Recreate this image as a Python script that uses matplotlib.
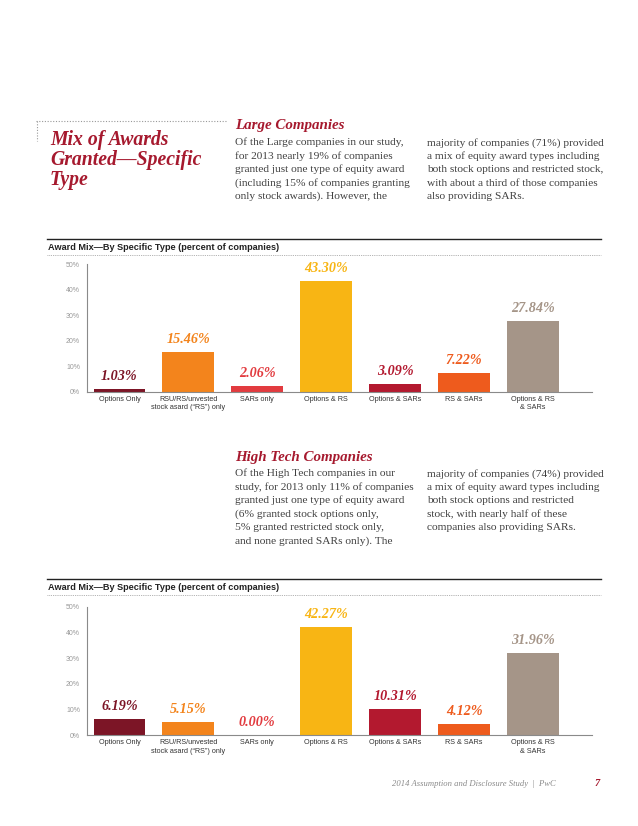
import matplotlib
matplotlib.use("Agg")
import matplotlib.pyplot as plt
from matplotlib.lines import Line2D

categories = ["Options Only", "RSU/RS/unvested\nstock asard (\u201cRS\u201d) only", "SARs only",
              "Options & RS", "Options & SARs", "RS & SARs", "Options & RS\n& SARs"]
large_values = [1.03, 15.46, 2.06, 43.30, 3.09, 7.22, 27.84]
hightech_values = [6.19, 5.15, 0.00, 42.27, 10.31, 4.12, 31.96]
bar_colors = ["#7c1526", "#f3841c", "#e23b3f", "#f8b514", "#b3192f", "#ee5b1d", "#a59588"]
y_ticks = [0, 10, 20, 30, 40, 50]
y_tick_labels = ["0%", "10%", "20%", "30%", "40%", "50%"]

CRIMSON = "#a6192e"
SERIF = "Liberation Serif"
SANS = "Liberation Sans"

W, H = 638, 826
fig = plt.figure(figsize=(W / 100, H / 100), dpi=100)
fig.patch.set_facecolor("white")


def fx(x):
    return x / W


def fy(y):
    return 1 - y / H


def hline(x0, x1, y, **kw):
    fig.add_artist(Line2D([fx(x0), fx(x1)], [fy(y), fy(y)], transform=fig.transFigure, **kw))


def vline(x, y0, y1, **kw):
    fig.add_artist(Line2D([fx(x), fx(x)], [fy(y0), fy(y1)], transform=fig.transFigure, **kw))


# ---- header section ----
hline(36, 226, 121, color="#999999", lw=0.8, linestyle=(0, (1, 1.5)))
vline(37, 121, 141, color="#999999", lw=0.8, linestyle=(0, (1, 1.5)))
title_lines = ["Mix of Awards", "Granted\u2014Specific", "Type"]
for i, t in enumerate(title_lines):
    fig.text(fx(50), fy(145 + i * 20), t, color=CRIMSON, fontfamily=SERIF, fontsize=14.2,
             fontweight="bold", fontstyle="italic", va="baseline", ha="left")

BODY_FS = 8.2
BODY_COLOR = "#404040"
LINE_H = 13.45


def section(y_head, head, col1, col2):
    fig.text(fx(235), fy(y_head), head, color=CRIMSON, fontfamily=SERIF, fontsize=10.8,
             fontweight="bold", fontstyle="italic", va="center", ha="left")
    for xcol, lines in ((235, col1), (427, col2)):
        for i, t in enumerate(lines):
            fig.text(fx(xcol), fy(y_head + 15.5 + i * LINE_H), t, color=BODY_COLOR,
                     fontfamily=SERIF, fontsize=BODY_FS, va="center_baseline", ha="left")


section(126, "Large Companies",
        ["Of the Large companies in our study,", "for 2013 nearly 19% of companies",
         "granted just one type of equity award", "(including 15% of companies granting",
         "only stock awards). However, the"],
        ["majority of companies (71%) provided", "a mix of equity award types including",
         "both stock options and restricted stock,", "with about a third of those companies",
         "also providing SARs."])

section(457, "High Tech Companies",
        ["Of the High Tech companies in our", "study, for 2013 only 11% of companies",
         "granted just one type of equity award", "(6% granted stock options only,",
         "5% granted restricted stock only,", "and none granted SARs only). The"],
        ["majority of companies (74%) provided", "a mix of equity award types including",
         "both stock options and restricted", "stock, with nearly half of these",
         "companies also providing SARs."])


def chart(y_line, y_top, y_base, values):
    hline(47, 601, y_line, color="#222222", lw=1.0)
    fig.text(fx(48), fy(y_line + 8), "Award Mix\u2014By Specific Type (percent of companies)",
             fontfamily=SANS, fontsize=6.6, fontweight="bold", color="#222222",
             va="center", ha="left")
    hline(47, 601, y_line + 16, color="#999999", lw=0.6, linestyle=(0, (1, 1.2)))

    ax = fig.add_axes([fx(87), fy(y_base), fx(592) - fx(87), (y_base - y_top) / H])
    x = list(range(len(values)))
    ax.bar(x, values, width=0.75, color=bar_colors, zorder=2)
    ax.set_xlim(-0.47, 6.855)
    ax.set_ylim(0, 50)
    ax.set_yticks(y_ticks)
    ax.set_yticklabels(y_tick_labels, fontfamily=SANS, fontsize=5, color="#999999")
    ax.set_xticks(x)
    ax.set_xticklabels(categories, fontfamily=SANS, fontsize=5.2, color="#333333",
                       linespacing=1.3, va="top")
    ax.tick_params(axis="both", length=0, pad=3)
    ax.tick_params(axis="y", pad=5)
    for s in ["top", "right"]:
        ax.spines[s].set_visible(False)
    for s in ["left", "bottom"]:
        ax.spines[s].set_color("#8a8a8a")
        ax.spines[s].set_linewidth(0.8)
    ax.set_facecolor("none")
    for xi, v, c in zip(x, values, bar_colors):
        ax.annotate(f"{v:.2f}%", (xi, v), xytext=(0, 9), textcoords="offset points",
                    ha="center", va="center", color=c, fontfamily=SERIF, fontsize=10.2,
                    fontweight="bold", fontstyle="italic", annotation_clip=False)
    return ax


chart(239, 264.3, 391.7, large_values)
chart(579, 606.7, 735, hightech_values)

# footer
fig.text(fx(556), fy(784), "2014 Assumption and Disclosure Study  |  PwC", color="#8a8a8a",
         fontfamily=SERIF, fontsize=6.2, fontstyle="italic", ha="right", va="center")
fig.text(fx(597), fy(784), "7", color=CRIMSON, fontfamily=SERIF, fontsize=7.5,
         fontweight="bold", fontstyle="italic", ha="center", va="center")

fig.savefig("out.png", dpi=100, facecolor="white")
